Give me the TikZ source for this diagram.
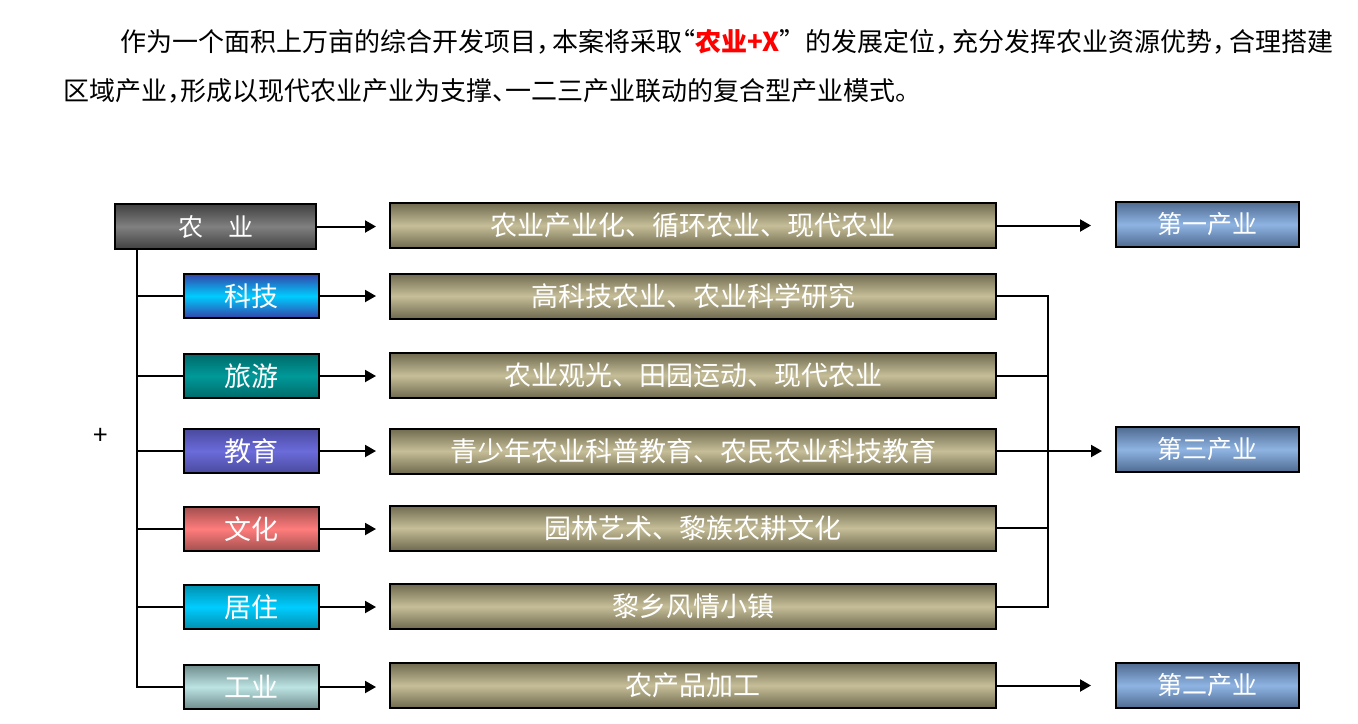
\documentclass[tikz,border=0pt]{standalone}
\usepackage{fontspec}
\setmainfont{Noto Sans CJK SC}
\newfontfamily\toptext{Noto Sans CJK SC}[RawFeature=+halt]
\usetikzlibrary{arrows.meta}

\definecolor{grayedge}{HTML}{404040}
\definecolor{graymid}{HTML}{808080}
\definecolor{kejiedge}{HTML}{3344AA}
\definecolor{kejimid}{HTML}{00CCFF}
\definecolor{lvyouedge}{HTML}{006A6A}
\definecolor{lvyoumid}{HTML}{009999}
\definecolor{jiaoyuedge}{HTML}{4A4A9E}
\definecolor{jiaoyumid}{HTML}{6B6BDB}
\definecolor{wenhuaedge}{HTML}{A34F4F}
\definecolor{wenhuamid}{HTML}{FF7C7C}
\definecolor{juzhuedge}{HTML}{0090AD}
\definecolor{juzhumid}{HTML}{00CCFF}
\definecolor{gongyeedge}{HTML}{6F8C8C}
\definecolor{gongyemid}{HTML}{BDE3E3}
\definecolor{oliveedge}{HTML}{6F6A4F}
\definecolor{olivemid}{HTML}{C6BE98}
\definecolor{blueedge}{HTML}{4F6A90}
\definecolor{bluemid}{HTML}{8EB4E3}

\begin{document}
\begin{tikzpicture}[x=0.5pt,y=-0.5pt,
  box/.style={draw=black,line width=1pt,text=white,inner sep=0pt,
    font=\fontsize{13.5pt}{16pt}\selectfont},
  src/.style={box,minimum width=67.5pt,minimum height=22pt,
    top color=#1edge,bottom color=#1edge,middle color=#1mid},
  mid/.style={box,minimum width=303pt,minimum height=22.5pt,
    top color=oliveedge,bottom color=oliveedge,middle color=olivemid},
  ind/.style={box,minimum width=91.5pt,minimum height=22.5pt,
    font=\fontsize{12.5pt}{15pt}\selectfont,
    top color=blueedge,bottom color=blueedge,middle color=bluemid},
  link/.style={line width=1pt},
  arr/.style={link,-{Triangle[length=5.5pt,width=6pt]}}]
\fill[white] (0,0) rectangle (1358,723);

% opening text
\node[anchor=west,inner sep=0pt,font=\toptext\fontsize{13pt}{16pt}\selectfont] (line1) at (120,41.5)
  {作为一个面积上万亩的综合开发项目，\hspace{0.1em}本案将采取“\textcolor{red}{\textbf{农业+X}}”\hspace{0.5em}的发展定位，\hspace{0.15em}充分发挥农业资源优势，\hspace{0.15em}合理搭建};
\node[anchor=west,inner sep=0pt,font=\toptext\fontsize{13pt}{16pt}\selectfont] (line2) at (63,91)
  {区域产业，形成以现代农业产业为支撑、一二三产业联动的复合型产业模式。};

\node[font=\fontsize{13pt}{16pt}\selectfont] (plus) at (101,436) {+};

% left column
\node[box,minimum width=100.5pt,minimum height=22.5pt,font=\fontsize{12.5pt}{15pt}\selectfont,
  top color=grayedge,bottom color=grayedge,middle color=graymid] (nongye) at (215.5,226.5) {农\hspace{1em}业};
\node[src=keji] (keji) at (251.5,296) {科技};
\node[src=lvyou] (lvyou) at (251.5,376) {旅游};
\node[src=jiaoyu] (jiaoyu) at (251.5,451) {教育};
\node[src=wenhua] (wenhua) at (251.5,529) {文化};
\node[src=juzhu] (juzhu) at (251.5,607) {居住};
\node[src=gongye] (gongye) at (251.5,687) {工业};

% middle column
\node[mid] (xiandai) at (693,225.5) {农业产业化、循环农业、现代农业};
\node[mid] (gaokeji) at (693,296) {高科技农业、农业科学研究};
\node[mid] (guanguang) at (693,375.5) {农业观光、田园运动、现代农业};
\node[mid] (kepu) at (693,451) {青少年农业科普教育、农民农业科技教育};
\node[mid] (yuanlin) at (693,528) {园林艺术、黎族农耕文化};
\node[mid] (xiaozhen) at (693,606.5) {黎乡风情小镇};
\node[mid] (jiagong) at (693,685.5) {农产品加工};

% right column
\node[ind] (diyi) at (1207.5,224.5) {第一产业};
\node[ind] (disan) at (1207.5,449.5) {第三产业};
\node[ind] (dier) at (1207.5,685.5) {第二产业};

% trunk on the left
\draw[link] (nongye.south west) ++(23,0) coordinate (trunk) |- (gongye.west);
\foreach \n in {keji,lvyou,jiaoyu,wenhua,juzhu}
  \draw[link] (\n.west) -- (\n.west -| trunk);

% into the middle column
\draw[arr,shorten >=6.5pt] (nongye.east) -- (nongye.east -| xiandai.west);
\draw[arr,shorten >=6.5pt] (keji.east) -- (keji.east -| gaokeji.west);
\draw[arr,shorten >=6.5pt] (lvyou.east) -- (lvyou.east -| guanguang.west);
\draw[arr,shorten >=6.5pt] (jiaoyu.east) -- (jiaoyu.east -| kepu.west);
\draw[arr,shorten >=6.5pt] (wenhua.east) -- (wenhua.east -| yuanlin.west);
\draw[arr,shorten >=6.5pt] (juzhu.east) -- (juzhu.east -| xiaozhen.west);
\draw[arr,shorten >=6.5pt] (gongye.east) -- (gongye.east -| jiagong.west);

% to the three industries
\draw[arr,shorten >=12pt] (xiandai.east) -- (xiandai.east -| diyi.west);
\draw[link] (gaokeji.east) -- ++(51,0) coordinate (bracket) |- (xiaozhen.east);
\draw[link] (guanguang.east) -- (guanguang.east -| bracket);
\draw[link] (yuanlin.east) -- (yuanlin.east -| bracket);
\draw[arr,shorten >=6.5pt] (kepu.east) -- (kepu.east -| disan.west);
\draw[arr,shorten >=12pt] (jiagong.east) -- (jiagong.east -| dier.west);

\end{tikzpicture}
\end{document}
